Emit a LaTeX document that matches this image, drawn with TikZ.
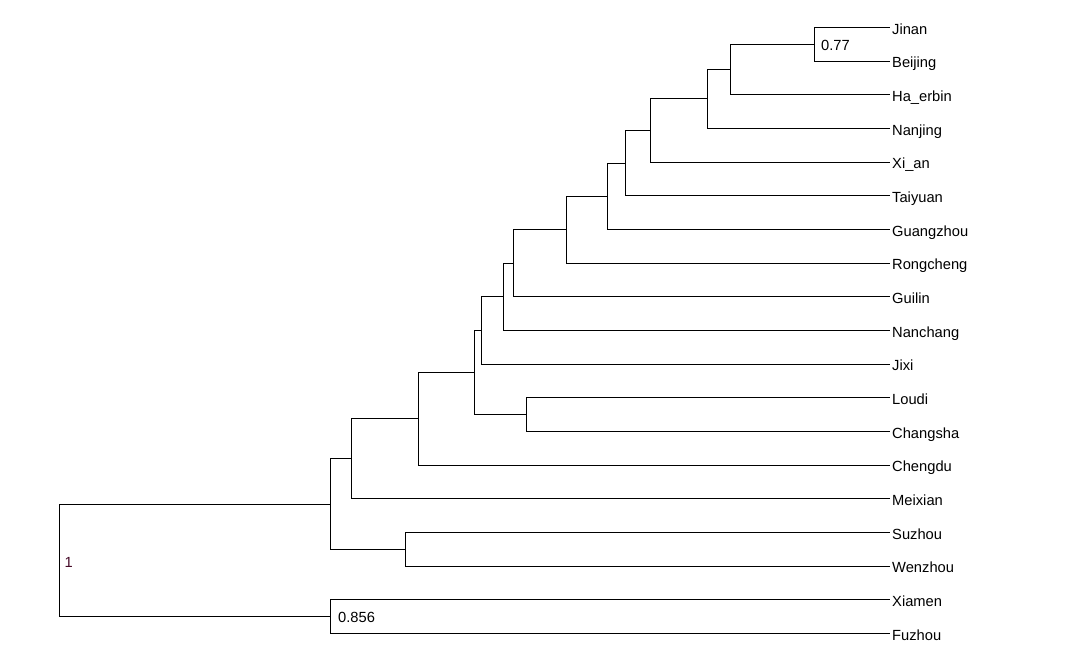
\documentclass[tikz,border=0pt]{standalone}
\usepackage{fontspec}
\setmainfont{Liberation Sans}
\begin{document}
\begin{tikzpicture}[x=1pt,y=-1pt,
  leaf/.style={anchor=west,inner xsep=3pt,inner ysep=0pt,text height=13.6pt,text depth=0pt,font=\fontsize{14.7}{16}\selectfont},
  val/.style={anchor=west,inner sep=0pt,font=\fontsize{14.7}{16}\selectfont},
  br/.style={line width=1pt,black,line cap=rect}]
\useasboundingbox (0,0) rectangle (1088,665);
% leaves
\def\lx{889}
\node[leaf] (Jinan) at (\lx,27.3) {Jinan};
\node[leaf] (Beijing) at (\lx,61.0) {Beijing};
\node[leaf] (Haerbin) at (\lx,94.6) {Ha\_erbin};
\node[leaf] (Nanjing) at (\lx,128.3) {Nanjing};
\node[leaf] (Xian) at (\lx,162.0) {Xi\_an};
\node[leaf] (Taiyuan) at (\lx,195.7) {Taiyuan};
\node[leaf] (Guangzhou) at (\lx,229.3) {Guangzhou};
\node[leaf] (Rongcheng) at (\lx,263.0) {Rongcheng};
\node[leaf] (Guilin) at (\lx,296.7) {Guilin};
\node[leaf] (Nanchang) at (\lx,330.3) {Nanchang};
\node[leaf] (Jixi) at (\lx,364.0) {Jixi};
\node[leaf] (Loudi) at (\lx,397.7) {Loudi};
\node[leaf] (Changsha) at (\lx,431.3) {Changsha};
\node[leaf] (Chengdu) at (\lx,465.0) {Chengdu};
\node[leaf] (Meixian) at (\lx,498.7) {Meixian};
\node[leaf] (Suzhou) at (\lx,532.4) {Suzhou};
\node[leaf] (Wenzhou) at (\lx,566.0) {Wenzhou};
\node[leaf] (Xiamen) at (\lx,599.7) {Xiamen};
\node[leaf] (Fuzhou) at (\lx,633.4) {Fuzhou};
% internal nodes
\coordinate (n1) at (814.3,44.15);
\coordinate (n2) at (730.8,69.4);
\coordinate (n3) at (707.3,98.85);
\coordinate (n4) at (650.3,130.4);
\coordinate (n5) at (625.3,163.05);
\coordinate (n6) at (607.3,196.2);
\coordinate (n7) at (566.6,229.6);
\coordinate (n8) at (513.3,263.15);
\coordinate (n9) at (503.3,296.7);
\coordinate (n10) at (481.3,330.35);
\coordinate (n11) at (526.3,414.5);
\coordinate (n12) at (474.3,372.4);
\coordinate (n13) at (418.3,418.7);
\coordinate (n14) at (351.3,458.85);
\coordinate (n15) at (405.5,549.2);
\coordinate (n16) at (330.3,504.0);
\coordinate (n17) at (330.3,616.55);
\coordinate (root) at (59.3,560.3);
% branches
\draw[br] (Jinan.west) -| (n1) |- (Beijing.west);
\draw[br] (n1) -| (n2) |- (Haerbin.west);
\draw[br] (n2) -| (n3) |- (Nanjing.west);
\draw[br] (n3) -| (n4) |- (Xian.west);
\draw[br] (n4) -| (n5) |- (Taiyuan.west);
\draw[br] (n5) -| (n6) |- (Guangzhou.west);
\draw[br] (n6) -| (n7) |- (Rongcheng.west);
\draw[br] (n7) -| (n8) |- (Guilin.west);
\draw[br] (n8) -| (n9) |- (Nanchang.west);
\draw[br] (n9) -| (n10) |- (Jixi.west);
\draw[br] (Loudi.west) -| (n11) |- (Changsha.west);
\draw[br] (n10) -| (n12) |- (n11);
\draw[br] (n12) -| (n13) |- (Chengdu.west);
\draw[br] (n13) -| (n14) |- (Meixian.west);
\draw[br] (Suzhou.west) -| (n15) |- (Wenzhou.west);
\draw[br] (n14) -| (n16) |- (n15);
\draw[br] (Xiamen.west) -| (n17) |- (Fuzhou.west);
\draw[br] (n16) -| (root) |- (n17);
% values
\node[val] (v077) at (821,45.5) {0.77};
\node[val] (v0856) at (338,617.5) {0.856};
\node[val,text={rgb,255:red,70;green,10;blue,40}] (v1) at (64.5,562) {1};
\end{tikzpicture}
\end{document}
